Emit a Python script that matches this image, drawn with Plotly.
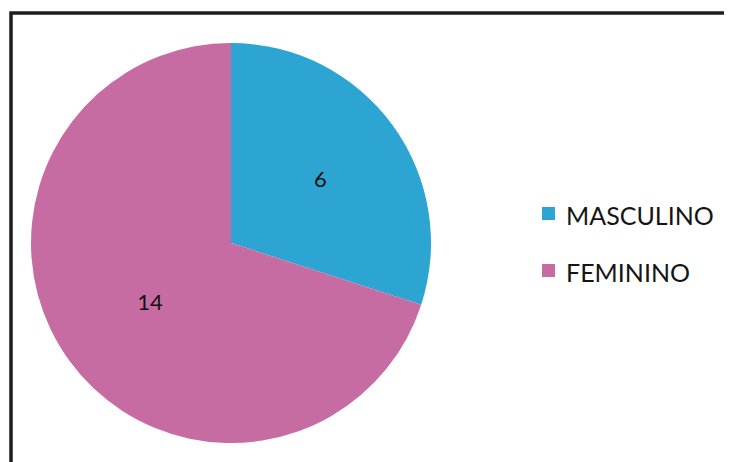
import plotly.graph_objects as go

labels = ["MASCULINO", "FEMININO"]
values = [6, 14]
colors = ["#2DA5D3", "#C76CA2"]

W, H = 732, 462
OFF = 8  # page body margin offset
FONT = "Lato"

def px(x):
    return (x - OFF) / W

def py(y):
    return (H - (y - OFF)) / H

fig = go.Figure()
fig.add_trace(go.Pie(
    labels=labels,
    values=values,
    sort=False,
    direction="clockwise",
    rotation=0,
    marker=dict(colors=colors, line=dict(width=0)),
    textinfo="value",
    textposition="inside",
    insidetextorientation="horizontal",
    textfont=dict(family=FONT, size=22, color="#111111"),
    domain=dict(x=[px(31), px(431)], y=[py(443), py(43)]),
    showlegend=False,
    hoverinfo="label+value",
))

# custom legend (wide spacing like the reference)
legend_y0 = 213.5
legend_gap = 57
for i, (lab, col) in enumerate(zip(labels, colors)):
    yc = legend_y0 + i * legend_gap
    fig.add_shape(type="rect", xref="paper", yref="paper",
                  x0=px(542), x1=px(555),
                  y0=py(yc + 6.5), y1=py(yc - 6.5),
                  fillcolor=col, line=dict(width=0))
    fig.add_annotation(text=lab, xref="paper", yref="paper",
                       x=px(564), y=py(yc + 1), xanchor="left", yanchor="middle",
                       showarrow=False,
                       font=dict(family=FONT, size=25, color="#151515"))

# frame (top and left visible, extends past right/bottom edges)
fig.add_shape(type="rect", xref="paper", yref="paper",
              x0=px(11), x1=px(W + 40), y0=py(H + 40), y1=py(13),
              line=dict(color="#1e1e1e", width=3.5), fillcolor="rgba(0,0,0,0)")

fig.update_layout(
    width=W, height=H,
    margin=dict(l=0, r=0, t=0, b=0),
    paper_bgcolor="white", plot_bgcolor="white",
    font=dict(family=FONT),
)

fig.write_html("out.html")
